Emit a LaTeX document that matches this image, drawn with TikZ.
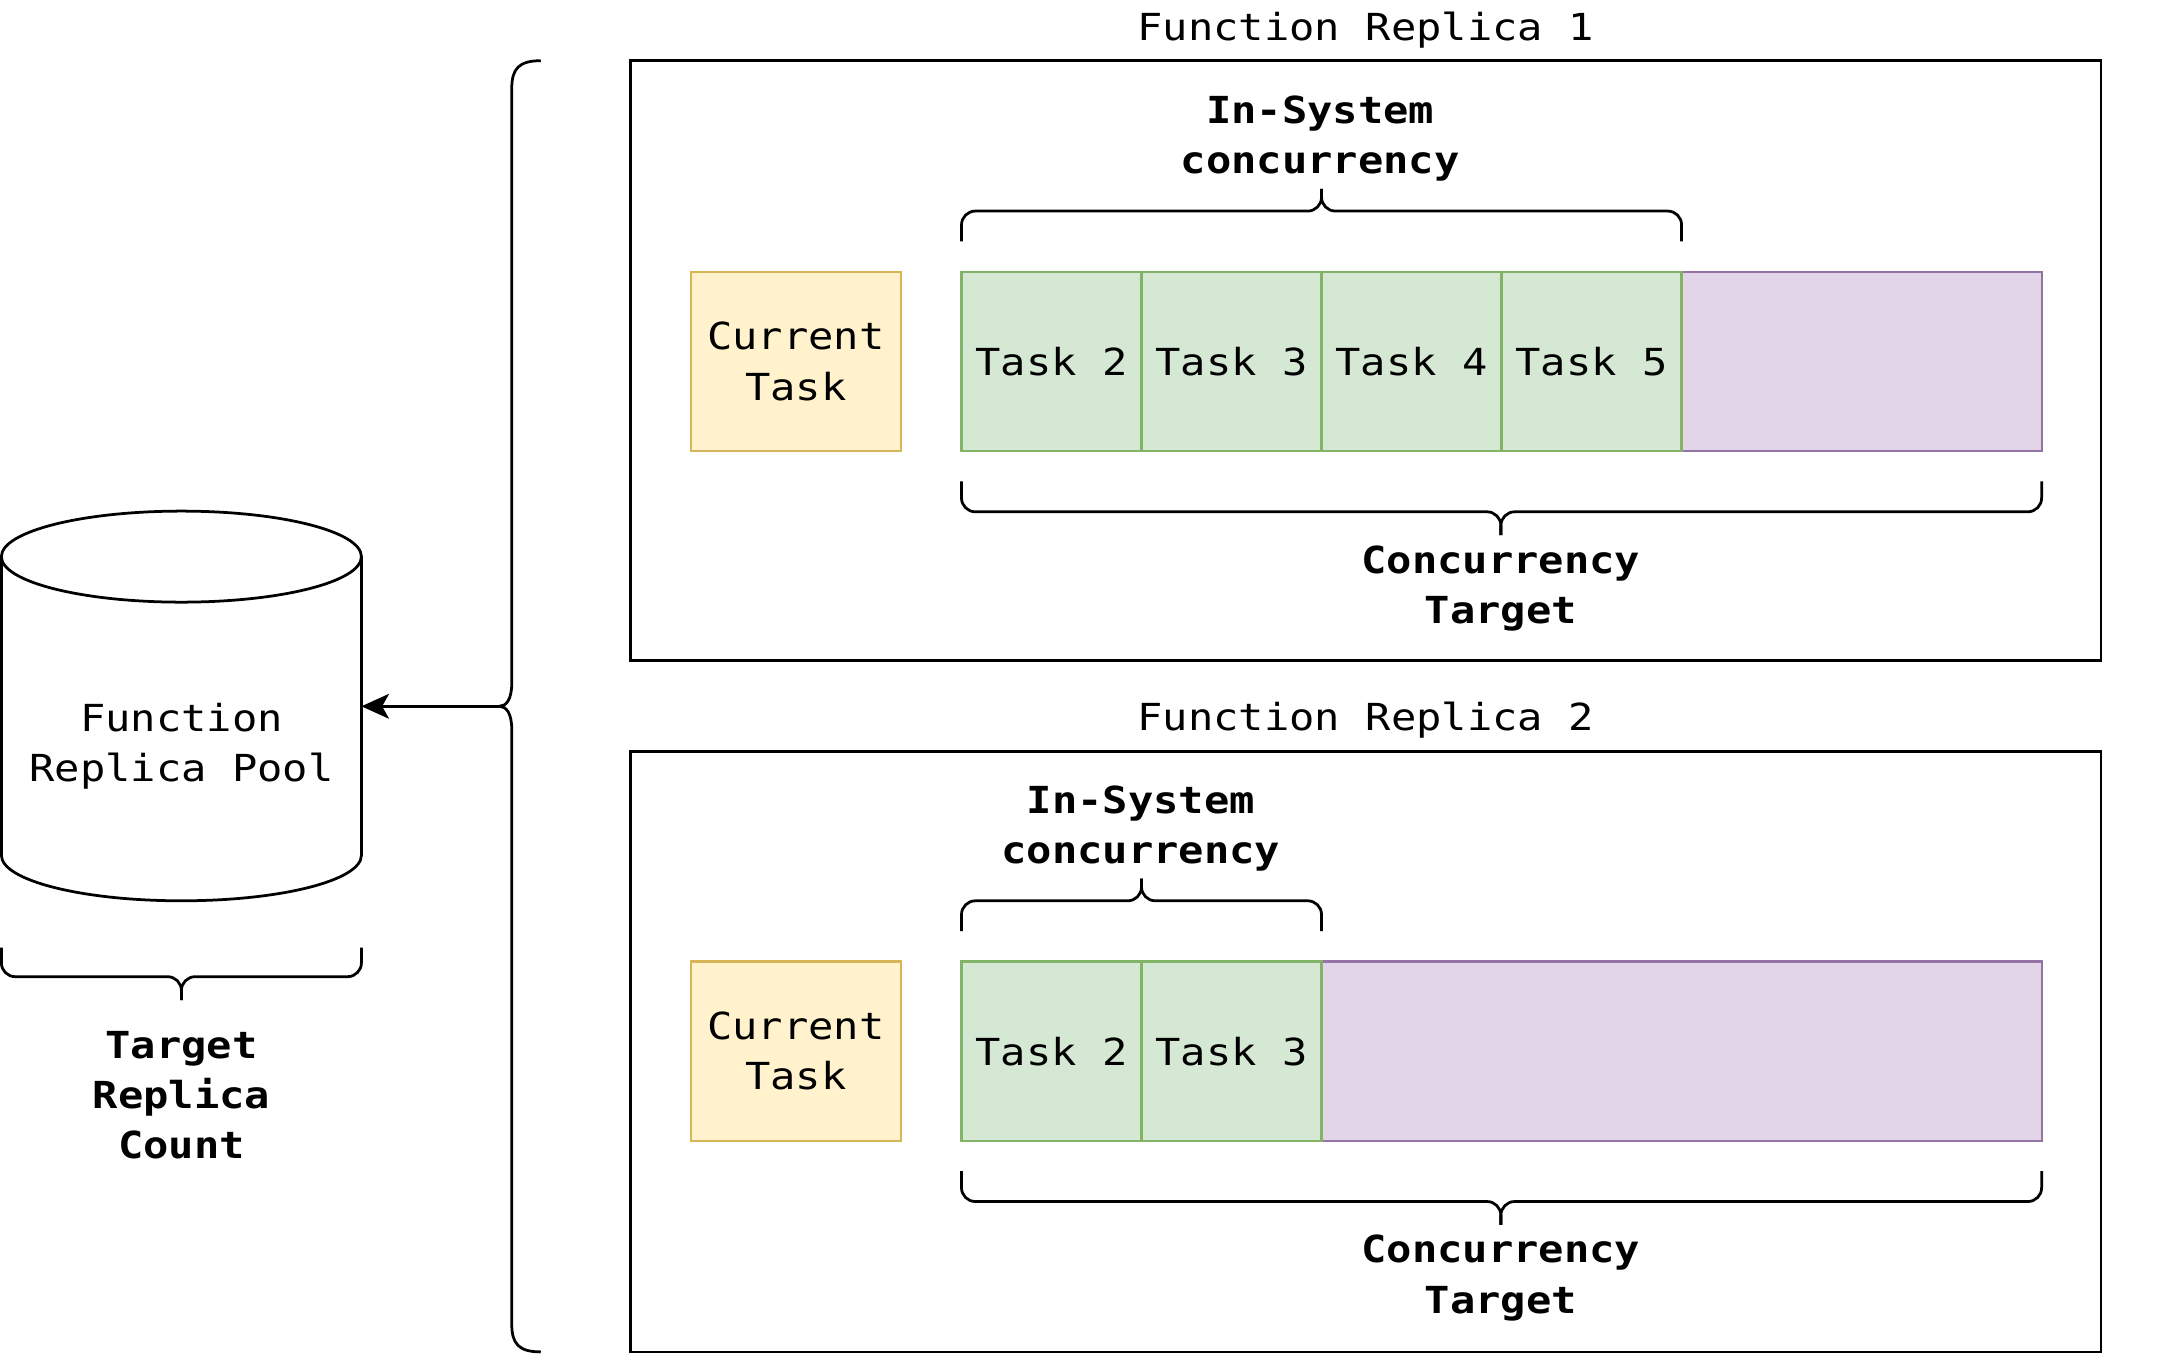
\documentclass[tikz,border=0pt]{standalone}
\usepackage{fontspec}
\usetikzlibrary{arrows.meta}
\newfontfamily\monofam[FakeStretch=1.13]{DejaVu Sans Mono}
\definecolor{curF}{HTML}{FFF2CC}
\definecolor{curS}{HTML}{D6B656}
\definecolor{tskF}{HTML}{D5E8D4}
\definecolor{tskS}{HTML}{82B366}
\definecolor{frF}{HTML}{E1D5E7}
\definecolor{frS}{HTML}{9673A6}
\tikzset{
  txt/.style={font=\monofam\fontsize{13.5}{18.25}\selectfont, align=center, inner sep=0pt},
  btxt/.style={font=\monofam\bfseries\fontsize{13.5}{18.25}\selectfont, align=center, inner sep=0pt},
  repbox/.style={draw=black, line width=1pt, minimum width=533pt, minimum height=217.5pt, inner sep=0pt, outer sep=0pt},
  cell/.style={line width=0.8pt, minimum height=65pt, inner sep=0pt, outer sep=0pt, font=\monofam\fontsize{13.5}{18.25}\selectfont, align=center},
  curbox/.style={cell, draw=curS, fill=curF, minimum width=76pt},
  taskbox/.style={cell, draw=tskS, fill=tskF, minimum width=65.25pt},
  freebox/.style={cell, draw=frS, fill=frF},
  bracepath/.style={line width=1pt, rounded corners=5pt},
  thinline/.style={line width=1pt},
}
\begin{document}
\begin{tikzpicture}[x=0.5pt, y=-0.5pt]
\useasboundingbox (0,0) rectangle (1568,981);

% ---------- cylinder ----------
\draw[thinline] (1,403.5) -- (1,620) arc (180:360:65.25pt and 16.5pt) -- (262,403.5) arc (0:180:65.25pt and 16.5pt) -- cycle;
\draw[thinline] (1,403.5) arc (180:360:65.25pt and 16.5pt);
\node[txt] (pool) at (131.5,541) {Function\\Replica Pool};
\coordinate (cylE) at (262,512);

% brace under cylinder
\draw[bracepath] (1,687) -- (1,708) -- (131.5,708) -- (131.5,725);
\draw[bracepath] (131.5,725) -- (131.5,708) -- (262,708) -- (262,687);
\node[btxt] (trc) at (131.5,794) {Target\\Replica\\Count};

% ---------- big vertical brace ----------
\coordinate (btip) at (362,512);
\draw[thinline] (392,44) .. controls (376,44) and (371,50) .. (371,64) -- (371,495) .. controls (371,507) and (367,512) .. (btip);
\draw[thinline] (btip) .. controls (367,512) and (371,517) .. (371,529) -- (371,960) .. controls (371,974) and (376,980) .. (392,980);
\draw[thinline, -{Stealth[length=10pt,width=9pt,inset=2.5pt]}] (btip) -- (cylE);

% ---------- replica 1 ----------
\node[txt] (title1) at (990,22) {Function Replica 1};
\node[repbox] (rep1) at (990,261.5) {};
\node[curbox] (cur1) at (577,262) {Current\\Task};
\node[freebox, minimum width=130.5pt] (free1) at (1349.5,262) {};
\node[taskbox] (t12) at (762.25,262) {Task 2};
\node[taskbox] (t13) at (892.75,262) {Task 3};
\node[taskbox] (t14) at (1023.25,262) {Task 4};
\node[taskbox] (t15) at (1153.75,262) {Task 5};

\draw[bracepath] (697,175) -- (697,153) -- (958,153) -- (958,137);
\draw[bracepath] (958,137) -- (958,153) -- (1219,153) -- (1219,175);
\node[btxt] (isc1) at (957,100.5) {In-System\\concurrency};

\draw[bracepath] (697,349) -- (697,371) -- (1088,371) -- (1088,388);
\draw[bracepath] (1088,388) -- (1088,371) -- (1480,371) -- (1480,349);
\node[btxt] (ct1) at (1088,426.5) {Concurrency\\Target};

% ---------- replica 2 ----------
\node[txt] (title2) at (990,522) {Function Replica 2};
\node[repbox] (rep2) at (990,762.5) {};
\node[curbox] (cur2) at (577,762) {Current\\Task};
\node[freebox, minimum width=261pt] (free2) at (1219,762) {};
\node[taskbox] (t22) at (762.25,762) {Task 2};
\node[taskbox] (t23) at (892.75,762) {Task 3};

\draw[bracepath] (697,675) -- (697,653) -- (827.5,653) -- (827.5,637);
\draw[bracepath] (827.5,637) -- (827.5,653) -- (958,653) -- (958,675);
\node[btxt] (isc2) at (827,600.5) {In-System\\concurrency};

\draw[bracepath] (697,849) -- (697,871) -- (1088,871) -- (1088,888);
\draw[bracepath] (1088,888) -- (1088,871) -- (1480,871) -- (1480,849);
\node[btxt] (ct2) at (1088,926.5) {Concurrency\\Target};
\end{tikzpicture}
\end{document}
